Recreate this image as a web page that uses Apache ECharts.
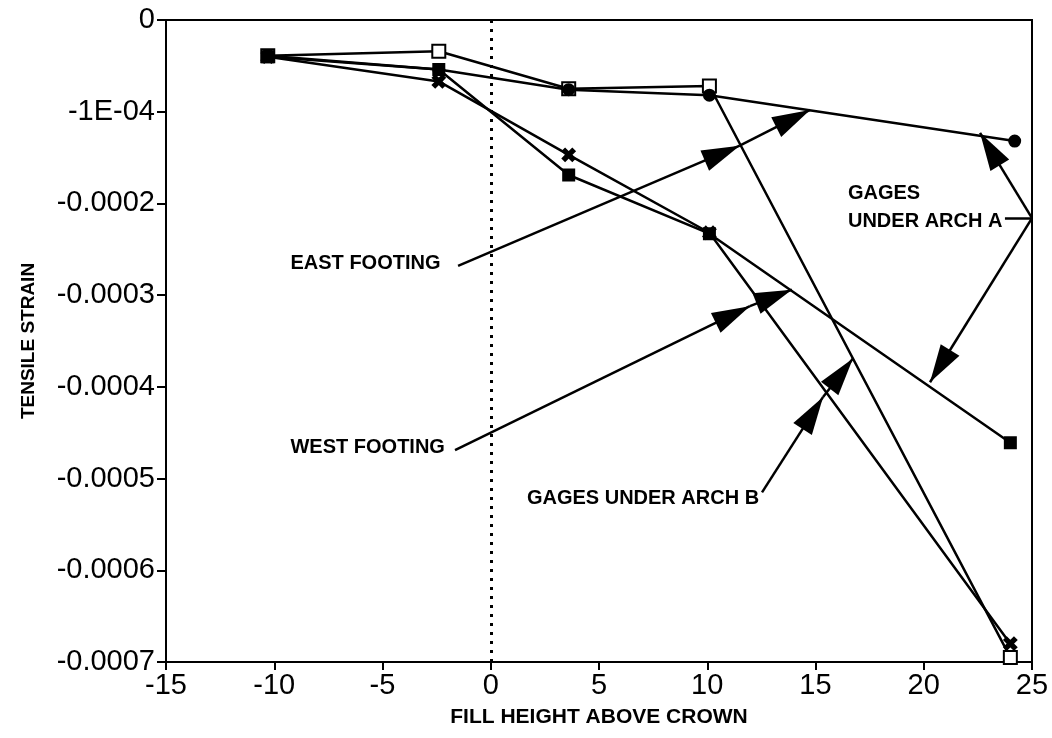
<!DOCTYPE html>
<html>
<head>
<meta charset="utf-8">
<script src="https://cdn.jsdelivr.net/npm/echarts@6/dist/echarts.min.js"></script>
<style>
  html, body { margin: 0; padding: 0; background: #fff; }
  #chart { width: 1052px; height: 738px; }
</style>
</head>
<body>
<div id="chart"></div>
<script>
// fill height above crown (x) for every reading
const fillHeight = [-10.3, -2.4, 3.6, 10.1, 24]
const fillHeightCircle = [-10.3, -2.4, 3.6, 10.1, 24.2]

// tensile strain readings, one array per gage
const gageOpenSquare = [-0.000039, -0.000034, -0.000075, -0.000072, -0.000695]
const gageCircle = [-0.000039, -0.000054, -0.000076, -0.000082, -0.000132]
const gageStar = [-0.000040, -0.000067, -0.000147, -0.000232, -0.000680]
const gageFilledSquare = [-0.000040, -0.000054, -0.000169, -0.000233, -0.000461]

// tick labels as printed on the original
const yTickLabels = ['0', '-1E-04', '-0.0002', '-0.0003', '-0.0004', '-0.0005', '-0.0006', '-0.0007']

// annotation texts, anchored at their left edge in data coordinates
const noteTexts = ['EAST FOOTING', 'WEST FOOTING', 'GAGES UNDER ARCH B', 'GAGES', 'UNDER ARCH A']
const noteX = [-9.25, -9.25, 1.67, 16.5, 16.5]
const noteY = [-0.000265, -0.000466, -0.000522, -0.000189, -0.000220]

// leader lines: [from, to, arrow at end?]
const leaders = [
  [[-1.51, -0.000268], [11.5, -0.000137], true],
  [[11.5, -0.000137], [14.75, -0.000098], true],
  [[-1.65, -0.000469], [11.97, -0.000312], true],
  [[11.97, -0.000312], [13.91, -0.000294], true],
  [[12.53, -0.000515], [15.35, -0.000411], true],
  [[15.35, -0.000411], [16.73, -0.000369], true],
  [[23.75, -0.000216], [25, -0.000216], false],
  [[25, -0.000216], [22.6, -0.000123], true],
  [[25, -0.000216], [20.29, -0.000395], true]
]

const FONT = '"Liberation Sans", Arial, sans-serif'
const starPath = 'path://M0,2 L2,0 L5,3 L8,0 L10,2 L7,5 L10,8 L8,10 L5,7 L2,10 L0,8 L3,5 Z'
const headPath = 'path://M10,0 L20,40 L0,40 Z'

const pair = (xs, ys) => xs.map((x, i) => [x, ys[i]])

const lineSeries = (data, symbol, size, fill) => ({
  type: 'line',
  data: data,
  symbol: symbol,
  symbolSize: size,
  showAllSymbol: true,
  itemStyle: { color: fill, borderColor: '#000', borderWidth: 2 },
  lineStyle: { color: '#000', width: 2.5 },
  z: 3
})

const chart = echarts.init(document.getElementById('chart'))

chart.setOption({
  animation: false,
  backgroundColor: '#fff',
  grid: {
    left: 166, right: 20, top: 20, bottom: 76,
    outerBoundsMode: 'none',
    show: true, borderColor: '#000', borderWidth: 2
  },
  xAxis: {
    type: 'value',
    min: -15, max: 25, interval: 5,
    name: 'FILL HEIGHT ABOVE CROWN',
    nameLocation: 'middle',
    nameGap: 45,
    nameTextStyle: { fontFamily: FONT, fontSize: 21, color: '#000', fontWeight: 'bold' },
    axisLine: { show: true, onZero: false, lineStyle: { color: '#000', width: 2 } },
    axisTick: { show: true, inside: false, length: 8, lineStyle: { color: '#000', width: 2 } },
    axisLabel: { fontFamily: FONT, fontSize: 29, color: '#000', margin: 9 },
    splitLine: { show: false }
  },
  yAxis: {
    type: 'value',
    min: -0.0007, max: 0, interval: 0.0001,
    name: 'TENSILE STRAIN',
    nameLocation: 'middle',
    nameRotate: 90,
    nameGap: 128,
    nameTextStyle: { fontFamily: FONT, fontSize: 19, color: '#000', fontWeight: 'bold' },
    axisLine: { show: true, onZero: false, lineStyle: { color: '#000', width: 2 } },
    axisTick: { show: true, inside: false, length: 9, lineStyle: { color: '#000', width: 2 } },
    axisLabel: {
      fontFamily: FONT, fontSize: 29, color: '#000', margin: 11,
      formatter: (v) => yTickLabels[Math.round(-v / 0.0001)]
    },
    splitLine: { show: false }
  },
  series: [
    Object.assign(lineSeries(pair(fillHeight, gageOpenSquare), 'rect', 13, '#fff'), {
      markLine: {
        silent: true,
        symbol: ['none', 'none'],
        label: { show: false },
        lineStyle: { color: '#000', type: [3, 6], width: 3 },
        data: [{ xAxis: 0 }]
      }
    }),
    lineSeries(pair(fillHeightCircle, gageCircle), 'circle', 11, '#000'),
    lineSeries(pair(fillHeight, gageStar), starPath, 12, '#000'),
    lineSeries(pair(fillHeight, gageFilledSquare), 'rect', 11, '#000'),
    {
      type: 'scatter',
      symbolSize: 0,
      silent: true,
      itemStyle: { opacity: 1 },
      data: noteTexts.map((t, i) => ({ name: t, value: [noteX[i], noteY[i]] })),
      label: {
        show: true,
        position: 'right',
        distance: 0,
        formatter: (p) => p.name,
        fontFamily: FONT, fontSize: 20, fontWeight: 'bold', color: '#000', opacity: 1
      },
      markLine: {
        silent: true,
        label: { show: false },
        lineStyle: { color: '#000', type: 'solid', width: 2.5, opacity: 1 },
        data: leaders.map((l) => [
          { coord: l[0], symbol: 'none' },
          { coord: l[1], symbol: l[2] ? headPath : 'none', symbolSize: [22, 38], symbolOffset: [0, '50%'] }
        ])
      }
    }
  ]
})
</script>
</body>
</html>
